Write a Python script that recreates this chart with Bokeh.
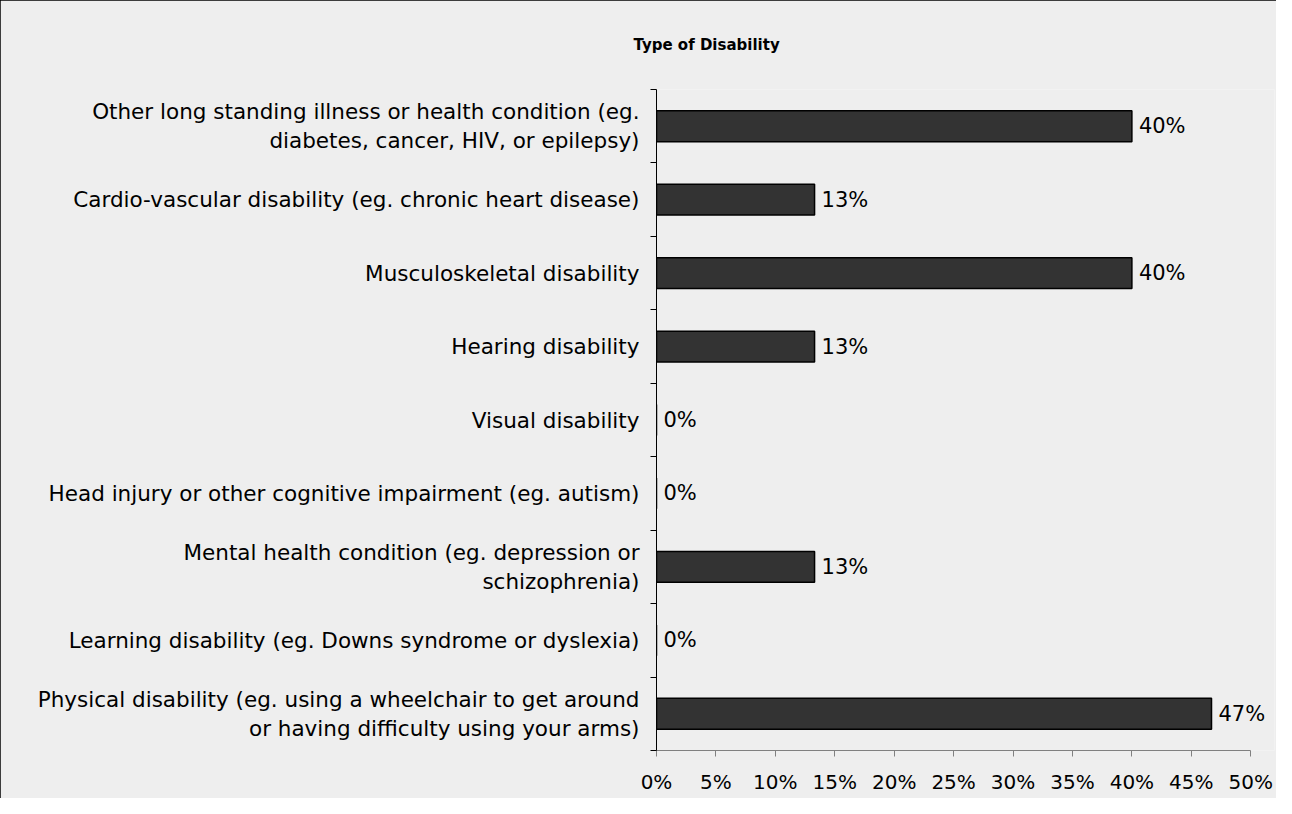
from bokeh.plotting import figure
from bokeh.models import (Range1d, LinearAxis, FixedTicker,
                          ColumnDataSource, LabelSet, NumeralTickFormatter)
from bokeh.core.properties import value
from bokeh.embed import file_html
from bokeh.resources import INLINE

title = "Type of Disability"
categories = [
    "Other long standing illness or health condition (eg.\ndiabetes, cancer, HIV, or epilepsy)",
    "Cardio-vascular disability (eg. chronic heart disease)",
    "Musculoskeletal disability",
    "Hearing disability",
    "Visual disability",
    "Head injury or other cognitive impairment (eg. autism)",
    "Mental health condition (eg. depression or\nschizophrenia)",
    "Learning disability (eg. Downs syndrome or dyslexia)",
    "Physical disability (eg. using a wheelchair to get around\nor having difficulty using your arms)",
]
shares = [0.400, 0.133, 0.400, 0.133, 0.0, 0.0, 0.133, 0.0, 0.467]
x_ticks = [0.0, 0.05, 0.10, 0.15, 0.20, 0.25, 0.30, 0.35, 0.40, 0.45, 0.50]

FONT = "DejaVu Sans"
BG = "#EEEEEE"

n = len(categories)
# category slots, first category at the top
centers = [n - i - 0.5 for i in range(n)]

source = ColumnDataSource(dict(
    pos=centers,
    share=shares,
    label=[f"{v:.0%}" for v in shares],
))

p = figure(width=1276, height=798,
           y_range=Range1d(0, n),
           x_range=Range1d(0, 0.52),
           x_axis_type=None, y_axis_type=None,
           output_backend="svg", toolbar_location=None,
           min_border_left=656, min_border_right=2,
           min_border_top=89, min_border_bottom=48)
p.background_fill_color = BG
p.border_fill_color = BG
p.outline_line_color = None
p.styles = {"outline": "1px solid black", "outline-offset": "-1px"}

p.title.text = title
p.title.align = "left"
p.title.offset = -23
p.title.vertical_align = "top"
p.title.standoff = 68
p.title.text_font = FONT
p.title.text_font_style = "bold"
p.title.text_font_size = "15px"
p.title.text_color = "black"

# boundary ticks + axis line
tick_axis = LinearAxis(ticker=FixedTicker(ticks=list(range(n + 1))),
                       major_label_overrides={i: "" for i in range(n + 1)},
                       major_label_standoff=0,
                       major_tick_out=6, major_tick_in=0,
                       minor_tick_line_color=None,
                       axis_line_color="black", major_tick_line_color="black")
p.add_layout(tick_axis, "left")

label_axis = LinearAxis(ticker=FixedTicker(ticks=centers),
                        major_label_overrides={c: t for c, t in zip(centers, categories)},
                        axis_line_color=None, major_tick_line_color=None,
                        minor_tick_line_color=None,
                        major_label_standoff=5,
                        major_label_text_font=FONT,
                        major_label_text_font_size="21.5px",
                        major_label_text_line_height=1.15,
                        major_label_text_color="black")
p.add_layout(label_axis, "left")

x_axis = LinearAxis(ticker=FixedTicker(ticks=x_ticks),
                    bounds=(0, 0.5),
                    formatter=NumeralTickFormatter(format="0%"),
                    axis_line_color="#808080", major_tick_line_color="#808080",
                    major_tick_out=6, major_tick_in=0,
                    minor_tick_line_color=None,
                    major_label_standoff=13,
                    major_label_text_font=FONT,
                    major_label_text_font_size="20px",
                    major_label_text_color="black")
p.add_layout(x_axis, "below")

p.hbar(y="pos", right="share", left=0, height=0.42, source=source,
       fill_color="#333333", line_color="black", line_width=1.5)

p.add_layout(LabelSet(x="share", y="pos", text="label", source=source,
                      x_offset=7, text_baseline="middle",
                      text_font=value(FONT), text_font_size="21px",
                      text_color="black"))

open("out.html", "w").write(file_html(p, INLINE))
